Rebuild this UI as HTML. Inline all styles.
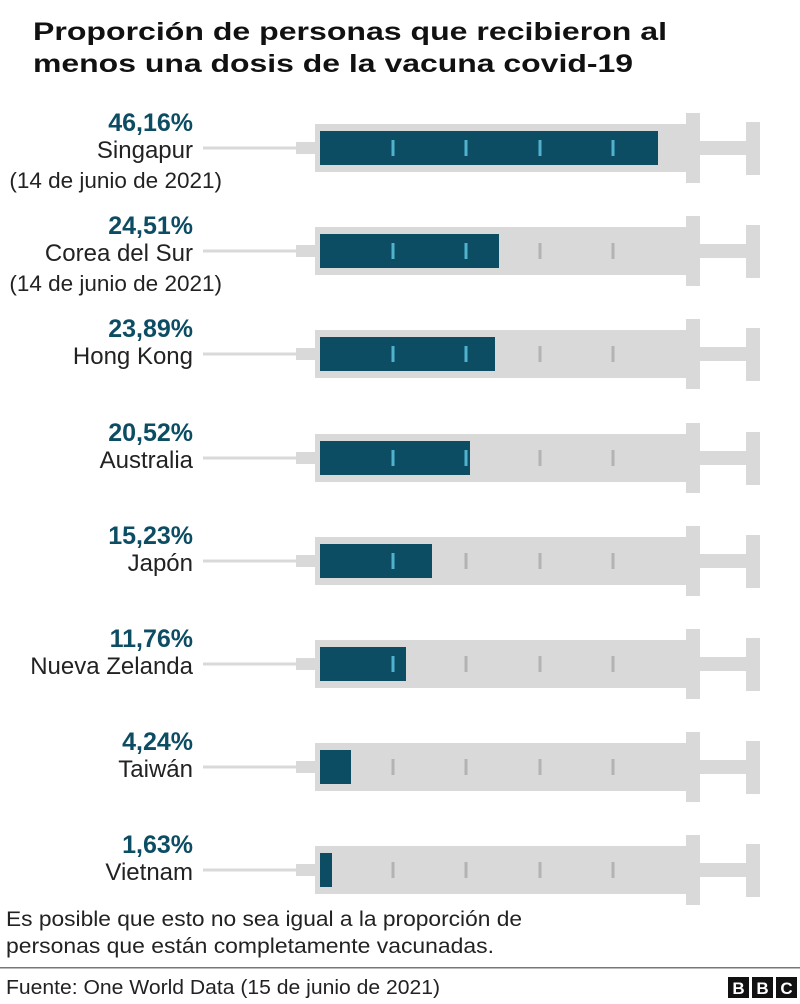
<!DOCTYPE html>
<html><head><meta charset="utf-8"><style>
body{margin:0;background:#fff;}
svg{display:block;font-family:"Liberation Sans",sans-serif;}
</style></head><body>
<svg width="800" height="1004" viewBox="0 0 800 1004" xmlns="http://www.w3.org/2000/svg">
<defs>
<g id="syr" fill="#d9d9d9">
<rect x="203" y="-1.5" width="95" height="3"/>
<rect x="296" y="-6" width="22" height="12"/>
<rect x="315" y="-24" width="373" height="48"/>
<rect x="686" y="-35" width="14" height="70"/>
<rect x="700" y="-7" width="48" height="14"/>
<rect x="746" y="-26" width="14" height="53"/>
</g>
<rect id="tb" x="-1.5" y="-8" width="3" height="16" fill="#4fb3cf"/>
<rect id="tg" x="-1.5" y="-8" width="3" height="16" fill="#b3b3b3"/>
</defs>
<rect width="800" height="1004" fill="#fff"/>
<text x="33" y="40" font-size="25" font-weight="bold" fill="#111" textLength="634" lengthAdjust="spacingAndGlyphs">Proporción de personas que recibieron al</text>
<text x="33" y="72" font-size="25" font-weight="bold" fill="#111" textLength="600" lengthAdjust="spacingAndGlyphs">menos una dosis de la vacuna covid-19</text>

<g font-size="24" fill="#222" text-anchor="end">
<!-- row 1 -->
<g transform="translate(0,148)">
<use href="#syr"/><rect x="320" y="-17" width="338" height="34" fill="#0d4d63"/>
<use href="#tb" x="393"/><use href="#tb" x="466"/><use href="#tb" x="540"/><use href="#tb" x="613"/>
<text x="193" y="-17" font-size="25" font-weight="bold" fill="#0d4d63">46,16%</text>
<text x="193" y="10">Singapur</text>
<text x="222" y="40" font-size="22.5">(14 de junio de 2021)</text>
</g>
<g transform="translate(0,251)">
<use href="#syr"/><rect x="320" y="-17" width="179" height="34" fill="#0d4d63"/>
<use href="#tb" x="393"/><use href="#tb" x="466"/><use href="#tg" x="540"/><use href="#tg" x="613"/>
<text x="193" y="-17" font-size="25" font-weight="bold" fill="#0d4d63">24,51%</text>
<text x="193" y="10">Corea del Sur</text>
<text x="222" y="40" font-size="22.5">(14 de junio de 2021)</text>
</g>
<g transform="translate(0,354)">
<use href="#syr"/><rect x="320" y="-17" width="175" height="34" fill="#0d4d63"/>
<use href="#tb" x="393"/><use href="#tb" x="466"/><use href="#tg" x="540"/><use href="#tg" x="613"/>
<text x="193" y="-17" font-size="25" font-weight="bold" fill="#0d4d63">23,89%</text>
<text x="193" y="10">Hong Kong</text>
</g>
<g transform="translate(0,458)">
<use href="#syr"/><rect x="320" y="-17" width="150" height="34" fill="#0d4d63"/>
<use href="#tb" x="393"/><use href="#tb" x="466"/><use href="#tg" x="540"/><use href="#tg" x="613"/>
<text x="193" y="-17" font-size="25" font-weight="bold" fill="#0d4d63">20,52%</text>
<text x="193" y="10">Australia</text>
</g>
<g transform="translate(0,561)">
<use href="#syr"/><rect x="320" y="-17" width="112" height="34" fill="#0d4d63"/>
<use href="#tb" x="393"/><use href="#tg" x="466"/><use href="#tg" x="540"/><use href="#tg" x="613"/>
<text x="193" y="-17" font-size="25" font-weight="bold" fill="#0d4d63">15,23%</text>
<text x="193" y="10">Japón</text>
</g>
<g transform="translate(0,664)">
<use href="#syr"/><rect x="320" y="-17" width="86" height="34" fill="#0d4d63"/>
<use href="#tb" x="393"/><use href="#tg" x="466"/><use href="#tg" x="540"/><use href="#tg" x="613"/>
<text x="193" y="-17" font-size="25" font-weight="bold" fill="#0d4d63">11,76%</text>
<text x="193" y="10">Nueva Zelanda</text>
</g>
<g transform="translate(0,767)">
<use href="#syr"/><rect x="320" y="-17" width="31" height="34" fill="#0d4d63"/>
<use href="#tg" x="393"/><use href="#tg" x="466"/><use href="#tg" x="540"/><use href="#tg" x="613"/>
<text x="193" y="-17" font-size="25" font-weight="bold" fill="#0d4d63">4,24%</text>
<text x="193" y="10">Taiwán</text>
</g>
<g transform="translate(0,870)">
<use href="#syr"/><rect x="320" y="-17" width="12" height="34" fill="#0d4d63"/>
<use href="#tg" x="393"/><use href="#tg" x="466"/><use href="#tg" x="540"/><use href="#tg" x="613"/>
<text x="193" y="-17" font-size="25" font-weight="bold" fill="#0d4d63">1,63%</text>
<text x="193" y="10">Vietnam</text>
</g>
</g>

<text x="6" y="926" font-size="21" fill="#222" textLength="516" lengthAdjust="spacingAndGlyphs">Es posible que esto no sea igual a la proporción de</text>
<text x="6" y="953" font-size="21" fill="#222" textLength="488" lengthAdjust="spacingAndGlyphs">personas que están completamente vacunadas.</text>
<rect x="0" y="967" width="800" height="1.5" fill="#777"/>
<text x="6" y="994" font-size="20" fill="#222" textLength="434" lengthAdjust="spacingAndGlyphs">Fuente: One World Data (15 de junio de 2021)</text>
<g font-size="17" font-weight="bold" fill="#fff" text-anchor="middle">
<rect x="728" y="977" width="21" height="21" fill="#111"/><text x="738.5" y="994">B</text>
<rect x="752" y="977" width="21" height="21" fill="#111"/><text x="762.5" y="994">B</text>
<rect x="776" y="977" width="21" height="21" fill="#111"/><text x="786.5" y="994">C</text>
</g>
</svg>
</body></html>
